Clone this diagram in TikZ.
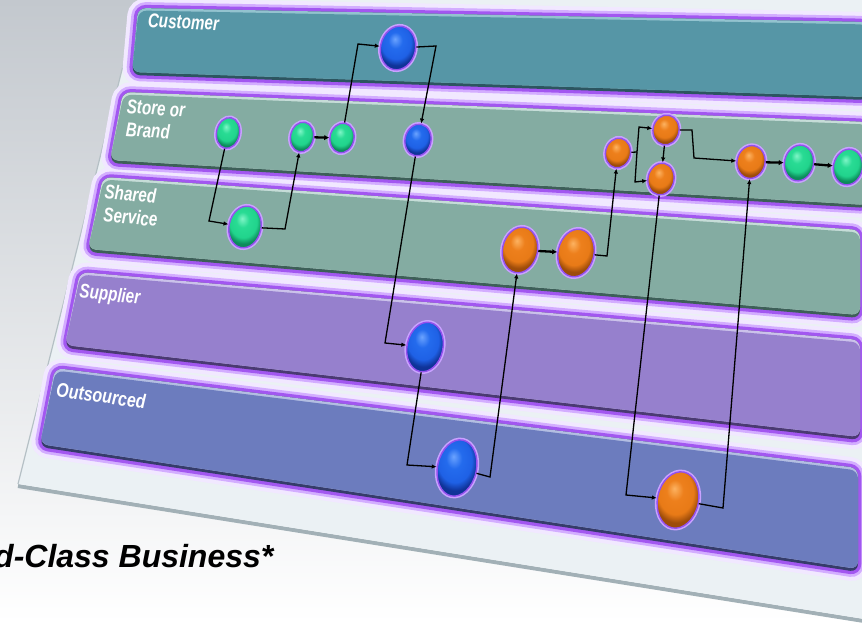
\documentclass[tikz,border=0pt]{standalone}
\usepackage{fontspec}
\newfontfamily\arialfont{Liberation Sans}
\usetikzlibrary{shapes.geometric,arrows.meta,calc}

% page and board
\definecolor{bgtop}{HTML}{C3C8CE}
\definecolor{boardfill}{HTML}{EBF1F4}
\definecolor{boardedge}{HTML}{A2B0B6}
% lane halo
\definecolor{glowlight}{HTML}{F1E8FF}
\definecolor{glowmid}{HTML}{D3ADFF}
\definecolor{glowdeep}{HTML}{A257F0}
% lane bodies: rim, highlight, main
\definecolor{cuRim}{HTML}{2C5560}\definecolor{cuHi}{HTML}{93C3CF}\definecolor{cuMain}{HTML}{5696A6}
\definecolor{stRim}{HTML}{3D5F58}\definecolor{stHi}{HTML}{C6DDD8}\definecolor{stMain}{HTML}{84ACA2}
\definecolor{spRim}{HTML}{4A3A72}\definecolor{spHi}{HTML}{CBC2EA}\definecolor{spMain}{HTML}{9680CD}
\definecolor{ouRim}{HTML}{353C6A}\definecolor{ouHi}{HTML}{B3BEE2}\definecolor{ouMain}{HTML}{6C7CBE}
% oval outline
\definecolor{nodering}{HTML}{9350EE}
\definecolor{nodehalo}{HTML}{C9A2FF}

\pgfdeclareradialshading{greenball}{\pgfpoint{-4bp}{9bp}}{%
  rgb(0bp)=(0.50,0.96,0.78);rgb(9bp)=(0.16,0.86,0.58);rgb(19bp)=(0.13,0.83,0.55);
  rgb(25bp)=(0.05,0.55,0.36);rgb(50bp)=(0.04,0.45,0.30)}
\pgfdeclareradialshading{blueball}{\pgfpoint{-4bp}{9bp}}{%
  rgb(0bp)=(0.42,0.64,1.00);rgb(9bp)=(0.14,0.42,0.93);rgb(19bp)=(0.12,0.38,0.90);
  rgb(25bp)=(0.06,0.20,0.60);rgb(50bp)=(0.05,0.16,0.50)}
\pgfdeclareradialshading{orangeball}{\pgfpoint{-4bp}{9bp}}{%
  rgb(0bp)=(0.99,0.70,0.38);rgb(9bp)=(0.93,0.50,0.11);rgb(19bp)=(0.91,0.48,0.09);
  rgb(25bp)=(0.62,0.30,0.04);rgb(50bp)=(0.52,0.25,0.03)}

\tikzset{
  oval/.style={ellipse, inner sep=0pt, rotate=-12, draw=nodering, line width=1.4pt,
    preaction={draw=nodehalo, line width=4.5pt}},
  gnode/.style={oval, shading=greenball},
  bnode/.style={oval, shading=blueball},
  onode/.style={oval, shading=orangeball},
  conn/.style={line width=1.3pt, -{Latex[length=5pt,width=4.5pt]}},
  plainconn/.style={line width=1.3pt},
  heavyconn/.style={line width=2.3pt, -{Latex[length=5pt,width=5.5pt]}},
  lanelabel/.style={text=white, anchor=north west, inner sep=0pt, align=left, xscale=0.76,
    font=\arialfont\bfseries\itshape\fontsize{20}{23}\selectfont},
}

% #1..#4 corners (TL,TR,BR,BL), #5 rim, #6 highlight, #7 main colour
\newcommand\lanebody[7]{%
  \fill[#5, rounded corners=8pt] (#1) -- (#2) -- (#3) -- (#4) -- cycle;
  \fill[#6, rounded corners=8pt] (#1) -- (#2) -- ($(#3)+(0,-3)$) -- ($(#4)+(0,-3)$) -- cycle;
  \fill[#7, rounded corners=8pt] ($(#1)+(0.6,2.5)$) -- ($(#2)+(0,2.5)$) -- ($(#3)+(0,-3)$) -- ($(#4)+(0,-3)$) -- cycle;
}

\begin{document}
\begin{tikzpicture}[x=1pt,y=-1pt]
\useasboundingbox (0,0) rectangle (862,623);
\clip (0,0) rectangle (862,623);

% page background
\shade[top color=bgtop, bottom color=white] (0,0) rectangle (862,623);

% tilted board
\draw[boardedge, line width=4pt] (18,486) -- (864,621);
\fill[boardfill] (140,-2) -- (18,484) -- (864,619) -- (864,-2) -- cycle;
\draw[boardedge!80!white, line width=1.2pt] (140,-2) -- (18,484);

% lane corners
\coordinate (cu1) at (138,8);   \coordinate (cu2) at (868,22);  \coordinate (cu3) at (868,100); \coordinate (cu4) at (132,75);
\coordinate (st1) at (123,92);  \coordinate (st2) at (868,122); \coordinate (st3) at (868,208); \coordinate (st4) at (110,163);
\coordinate (sh1) at (103,177); \coordinate (sh2) at (860,230); \coordinate (sh3) at (860,318); \coordinate (sh4) at (88,252);
\coordinate (sp1) at (80,272);  \coordinate (sp2) at (860,340); \coordinate (sp3) at (860,440); \coordinate (sp4) at (65,348);
\coordinate (ou1) at (55,368);  \coordinate (ou2) at (858,468); \coordinate (ou3) at (858,572); \coordinate (ou4) at (40,447);

% halo round every lane
\foreach \l in {cu,st,sh,sp,ou}
  \draw[glowlight, line width=20pt, rounded corners=8pt] (\l1) -- (\l2) -- (\l3) -- (\l4) -- cycle;
\foreach \l in {cu,st,sh,sp,ou}
  \draw[glowmid, line width=12pt, rounded corners=8pt] (\l1) -- (\l2) -- (\l3) -- (\l4) -- cycle;
\foreach \l in {cu,st,sh,sp,ou}
  \draw[glowdeep, line width=6.5pt, rounded corners=8pt] (\l1) -- (\l2) -- (\l3) -- (\l4) -- cycle;

% lane bodies
\lanebody{cu1}{cu2}{cu3}{cu4}{cuRim}{cuHi}{cuMain}
\lanebody{st1}{st2}{st3}{st4}{stRim}{stHi}{stMain}
\lanebody{sh1}{sh2}{sh3}{sh4}{stRim}{stHi}{stMain}
\lanebody{sp1}{sp2}{sp3}{sp4}{spRim}{spHi}{spMain}
\lanebody{ou1}{ou2}{ou3}{ou4}{ouRim}{ouHi}{ouMain}

% lane labels
\node[lanelabel, rotate=-2] (lcu) at (148,13) {Customer};
\node[lanelabel, rotate=-3] (lst) at (127,99) {Store or\\Brand};
\node[lanelabel, rotate=-4] (lsh) at (105,184) {Shared\\Service};
\node[lanelabel, rotate=-5] (lsp) at (80,283) {Supplier};
\node[lanelabel, rotate=-6, xscale=1.05] (lou) at (57,382) {Outsourced};

% process steps
\node[gnode, minimum width=23pt, minimum height=31pt] (g1) at (228,133) {};
\node[gnode, minimum width=23pt, minimum height=30pt] (g2) at (302,137) {};
\node[gnode, minimum width=24pt, minimum height=30pt] (g3) at (342,138) {};
\node[gnode, minimum width=32pt, minimum height=42pt] (g4) at (245,227) {};
\node[bnode, minimum width=35pt, minimum height=44pt] (b1) at (398,48) {};
\node[bnode, minimum width=26pt, minimum height=32pt] (b2) at (418,140) {};
\node[bnode, minimum width=36pt, minimum height=50pt] (b3) at (425,347) {};
\node[bnode, minimum width=39pt, minimum height=57pt] (b4) at (457,468) {};
\node[onode, minimum width=35pt, minimum height=46pt] (o1) at (520,250) {};
\node[onode, minimum width=36pt, minimum height=48pt] (o2) at (576,253) {};
\node[onode, minimum width=25pt, minimum height=30pt] (o3) at (618,153) {};
\node[onode, minimum width=26pt, minimum height=30pt] (o4) at (666,130) {};
\node[onode, minimum width=26pt, minimum height=32pt] (o5) at (661,179) {};
\node[onode, minimum width=28pt, minimum height=33pt] (o6) at (751,162) {};
\node[onode, minimum width=41pt, minimum height=57pt] (o7) at (678,500) {};
\node[gnode, minimum width=29pt, minimum height=36pt] (g5) at (799,163) {};
\node[gnode, minimum width=29pt, minimum height=36pt] (g6) at (848,167) {};

% flow
\draw[conn] (g1) -- (209,221) -- (g4);
\draw[conn] (g4) -- (285,229) -- (g2);
\draw[heavyconn] (g2) -- (g3);
\draw[conn] (g3) -- (358,44) -- (b1);
\draw[conn] (b1) -- (436,46) -- (b2);
\draw[conn] (b2) -- (385,343) -- (b3);
\draw[conn] (b3) -- (407,465) -- (b4);
\draw[conn] (b4) -- (490,477) -- (o1);
\draw[heavyconn] (o1) -- (o2);
\draw[conn] (o2) -- (607,256) -- (o3);
\coordinate (split) at (637,152);
\draw[plainconn] (o3) -- (split);
\draw[conn] (split) -- (639,127) -- (o4);
\draw[conn] (split) -- (635,182) -- (o5);
\draw[conn] (o4) -- (o5);
\draw[conn] (o4) -- (692,130) -- (694,158) -- (o6);
\draw[conn] (o5) -- (626,495) -- (o7);
\draw[conn] (o7) -- (723,508) -- (o6);
\draw[heavyconn] (o6) -- (g5);
\draw[heavyconn] (g5) -- (g6);

% caption, running in from the left edge
\node[anchor=base west, inner sep=0pt, font=\arialfont\bfseries\itshape\fontsize{32}{36}\selectfont] (caption) at (-6,567) {d-Class Business*};
\end{tikzpicture}
\end{document}
